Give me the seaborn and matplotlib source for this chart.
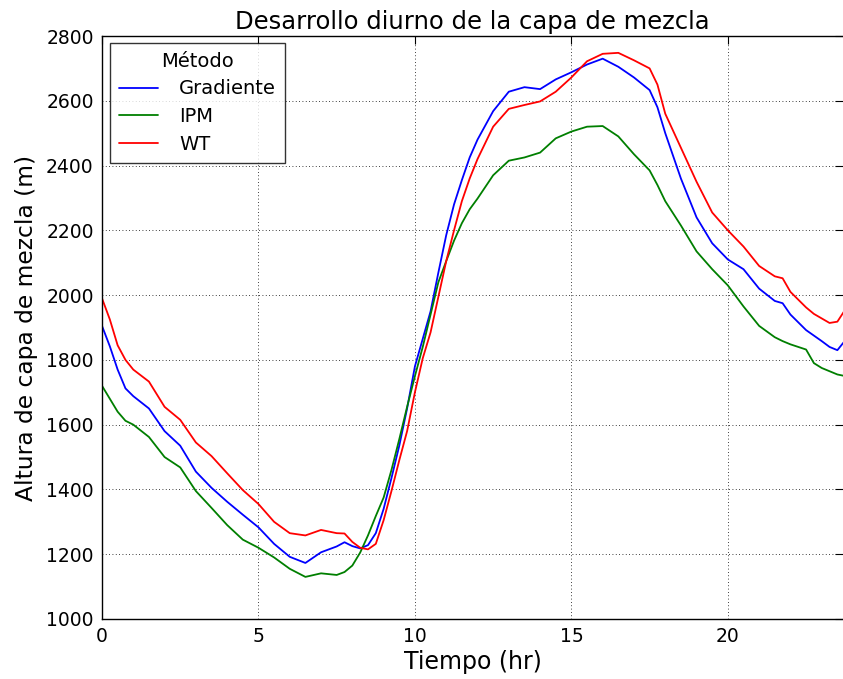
import numpy as np
import pandas as pd
import matplotlib
matplotlib.use("Agg")
import matplotlib.pyplot as plt
import seaborn as sns

hours = [0, 0.25, 0.5, 0.75, 1, 1.5, 2, 2.5, 3, 3.5, 4, 4.5, 5, 5.5, 6, 6.5, 7, 7.5, 7.75,
         8, 8.25, 8.5, 8.75, 9, 9.25, 9.5, 9.75, 10, 10.25, 10.5, 10.75, 11, 11.25, 11.5,
         11.75, 12, 12.5, 13, 13.5, 14, 14.5, 15, 15.5, 16, 16.5, 17, 17.5, 17.75, 18,
         18.5, 19, 19.5, 20, 20.5, 21, 21.5, 21.75, 22, 22.5, 22.75, 23, 23.25, 23.5, 23.75]

wt = [1990, 1925, 1845, 1800, 1770, 1733, 1655, 1615, 1545, 1503, 1450, 1398, 1355, 1300,
      1265, 1258, 1275, 1265, 1264, 1238, 1220, 1215, 1232, 1305, 1395, 1490, 1580, 1700,
      1805, 1885, 1995, 2105, 2200, 2290, 2360, 2420, 2520, 2575, 2587, 2598, 2628, 2672,
      2722, 2745, 2748, 2725, 2700, 2650, 2560, 2455, 2350, 2255, 2200, 2150, 2090, 2058,
      2052, 2010, 1962, 1942, 1928, 1914, 1918, 1955]

gradiente = [1905, 1842, 1770, 1712, 1688, 1650, 1580, 1535, 1455, 1405, 1362, 1322, 1283,
             1232, 1192, 1173, 1206, 1224, 1237, 1225, 1218, 1228, 1265, 1340, 1435, 1535,
             1650, 1780, 1865, 1950, 2070, 2185, 2280, 2355, 2425, 2480, 2568, 2628, 2642,
             2636, 2666, 2688, 2712, 2730, 2705, 2672, 2633, 2580, 2500, 2360, 2240, 2160,
             2110, 2080, 2020, 1982, 1975, 1940, 1892, 1875, 1858, 1840, 1830, 1860]

ipm = [1720, 1680, 1640, 1612, 1600, 1562, 1500, 1468, 1395, 1343, 1290, 1245, 1220, 1190,
       1155, 1130, 1141, 1136, 1145, 1165, 1205, 1258, 1318, 1375, 1460, 1555, 1655, 1750,
       1840, 1940, 2040, 2105, 2168, 2222, 2265, 2298, 2370, 2415, 2425, 2440, 2484, 2505,
       2520, 2522, 2490, 2435, 2385, 2340, 2290, 2215, 2135, 2080, 2030, 1965, 1905, 1870,
       1858, 1848, 1832, 1790, 1775, 1765, 1755, 1750]

methods = ["Gradiente", "IPM", "WT"]
colors = {"Gradiente": "#0000ff", "IPM": "#007f00", "WT": "#ff0000"}

df = pd.DataFrame({
    "Tiempo": hours * 3,
    "Altura": gradiente + ipm + wt,
    "Método": [m for m in methods for _ in hours],
})

sns.set_style("white")
plt.rcParams["font.family"] = ["DejaVu Sans"]
plt.rcParams["text.color"] = "black"
plt.rcParams["axes.labelcolor"] = "black"

fig = plt.figure(figsize=(8.43, 6.79), dpi=100)
ax = fig.add_axes([102 / 843, 1 - 619 / 679, 1 - 102 / 843, 583 / 679])

sns.lineplot(data=df, x="Tiempo", y="Altura", hue="Método", hue_order=methods,
             palette=colors, linewidth=1.3, ax=ax, sort=True)

ax.set_xlim(0, 23.68)
ax.set_ylim(1000, 2800)
ax.set_xticks([0, 5, 10, 15, 20])
ax.set_yticks(np.arange(1000, 2801, 200))
ax.grid(True, color="black", linestyle=(0, (1, 3)), linewidth=0.6)
ax.tick_params(direction="in", length=6, width=0.8, top=True, right=True,
               labelsize=13.5, colors="black", labelcolor="black", pad=6)
for s in ["left", "bottom", "top"]:
    ax.spines[s].set_color("black")
    ax.spines[s].set_linewidth(1.0)
ax.spines["right"].set_visible(False)

ax.set_title("Desarrollo diurno de la capa de mezcla", fontsize=17.5, pad=5, color="black")
ax.set_xlabel("Tiempo (hr)", fontsize=17, labelpad=3, color="black")
ax.set_ylabel("Altura de capa de mezcla (m)", fontsize=16.8, labelpad=6, color="black")

leg = ax.legend(title="Método", loc="upper left", fontsize=14, title_fontsize=14,
                frameon=True, fancybox=False, edgecolor="black", borderpad=0.45,
                handlelength=2.0, handletextpad=1.1, labelspacing=0.45,
                borderaxespad=0.0, bbox_to_anchor=(0.011, 0.988))
leg.get_frame().set_linewidth(1.0)
for line in leg.get_lines():
    line.set_linewidth(1.3)

fig.savefig("out.png", dpi=100)
